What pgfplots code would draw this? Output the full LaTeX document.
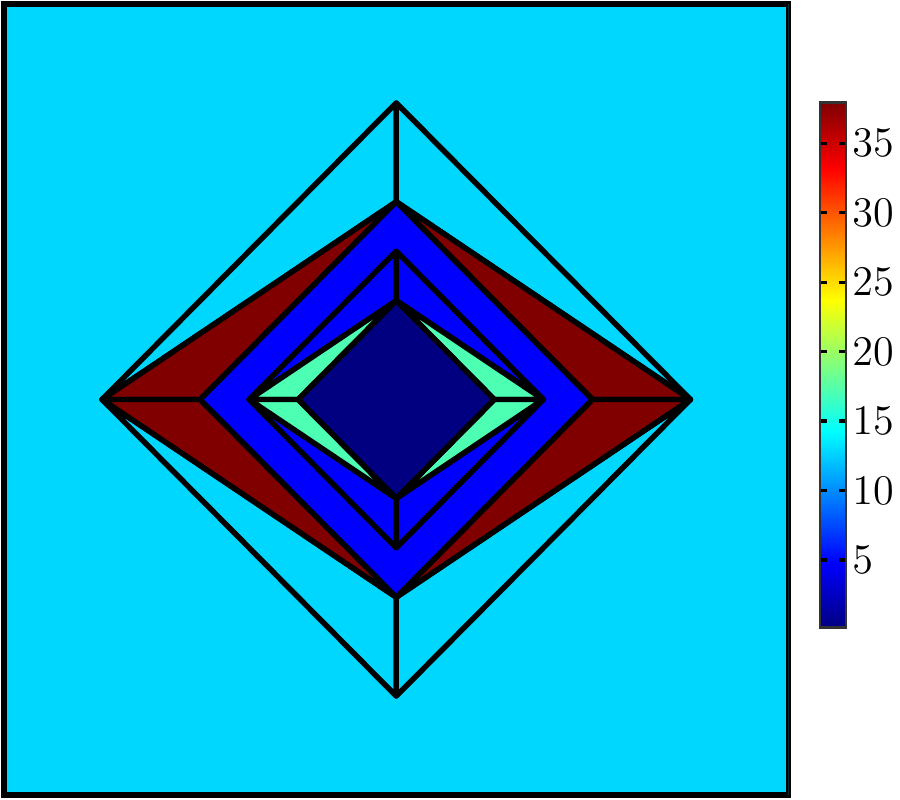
\documentclass[border=0pt]{standalone}
\usepackage{pgfplots}
\usepgfplotslibrary{patchplots}
\pgfplotsset{compat=1.18}
\begin{document}
\begin{tikzpicture}
\path[use as bounding box] (0,0) rectangle (9cm,8cm);
\begin{axis}[
    at={(0.04cm,0.05cm)}, anchor=south west,
    scale only axis, width=7.845cm, height=7.91cm,
    xmin=-1, xmax=1, ymin=-1, ymax=1,
    xtick=\empty, ytick=\empty,
    axis line style={line width=1.55pt, line join=miter},
    colormap/jet,
    point meta min=0.1, point meta max=37.9,
    colorbar right,
    colorbar style={
        at={(parent axis.south west)}, anchor=south west,
        xshift=7.86cm, yshift=1.67cm,
        scale only axis, width=0.26cm, height=5.25cm,
        ytick={5,10,15,20,25,30,35},
        ytick pos=both, yticklabel pos=right,
        tick align=inside, major tick length=0.07cm,
        ytick style={line width=0.9pt, black},
        axis line style={line width=0.85pt, black!80},
        yticklabel style={font=\fontsize{12.5}{14}\selectfont, xshift=-0.06cm},
    },
]
% background square
\addplot[patch, patch type=rectangle, shader=faceted, faceted color=black,
    line width=1.55pt, line join=round, point meta=\thisrow{c}] table {
x y c
-1 -1 12.8
1 -1 12.8
1 1 12.8
-1 1 12.8
};
% outer ring: cyan and dark red triangles
\addplot[patch, patch type=triangle, shader=faceted, faceted color=black,
    line width=1.55pt, line join=round, point meta=\thisrow{c}] table {
x y c
-0.75 0 12.8
0 0.75 12.8
0 0.5 12.8
0.75 0 12.8
0 0.75 12.8
0 0.5 12.8
-0.75 0 12.8
0 -0.75 12.8
0 -0.5 12.8
0.75 0 12.8
0 -0.75 12.8
0 -0.5 12.8
-0.75 0 37.9
0 0.5 37.9
-0.5 0 37.9
0.75 0 37.9
0 0.5 37.9
0.5 0 37.9
-0.75 0 37.9
0 -0.5 37.9
-0.5 0 37.9
0.75 0 37.9
0 -0.5 37.9
0.5 0 37.9
};
% blue ring, no cross lines
\addplot[patch, patch type=rectangle, shader=faceted, faceted color=black,
    line width=1.55pt, line join=round, point meta=\thisrow{c}] table {
x y c
-0.5 0 4.8
0 -0.5 4.8
0.5 0 4.8
0 0.5 4.8
};
% inner ring: blue and green triangles
\addplot[patch, patch type=triangle, shader=faceted, faceted color=black,
    line width=1.55pt, line join=round, point meta=\thisrow{c}] table {
x y c
-0.375 0 4.8
0 0.375 4.8
0 0.25 4.8
0.375 0 4.8
0 0.375 4.8
0 0.25 4.8
-0.375 0 4.8
0 -0.375 4.8
0 -0.25 4.8
0.375 0 4.8
0 -0.375 4.8
0 -0.25 4.8
-0.375 0 17.1
0 0.25 17.1
-0.25 0 17.1
0.375 0 17.1
0 0.25 17.1
0.25 0 17.1
-0.375 0 17.1
0 -0.25 17.1
-0.25 0 17.1
0.375 0 17.1
0 -0.25 17.1
0.25 0 17.1
};
% centre
\addplot[patch, patch type=rectangle, shader=faceted, faceted color=black,
    line width=1.55pt, line join=round, point meta=\thisrow{c}] table {
x y c
-0.25 0 0.1
0 -0.25 0.1
0.25 0 0.1
0 0.25 0.1
};
\end{axis}
\end{tikzpicture}
\end{document}
